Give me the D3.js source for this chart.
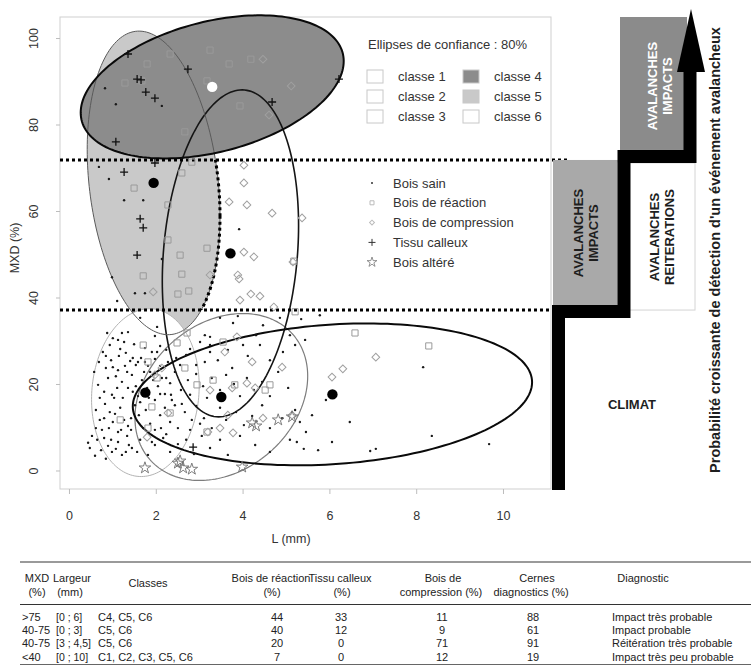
<!DOCTYPE html>
<html>
<head>
<meta charset="utf-8">
<script src="https://cdn.jsdelivr.net/npm/d3@7"></script>
<style>
  body { margin: 0; background: #fff; }
  text { font-family: "Liberation Sans", Arial, sans-serif; }
</style>
</head>
<body>
<svg id="chart" width="751" height="670"></svg>
<script>
// ---------- data ----------
const xTicks = [0, 2, 4, 6, 8, 10];
const yTicks = [0, 20, 40, 60, 80, 100];
const thresholds = [71.8, 37.1];          // MXD cut-offs (dotted lines)

const classNames = ["classe 1", "classe 2", "classe 3", "classe 4", "classe 5", "classe 6"];
// class means [L (mm), MXD (%)]
const classMeans = [[1.76, 18.0], [3.51, 17.0], [6.07, 17.6], [3.30, 88.7], [1.95, 66.5], [3.72, 50.2]];
// 80% confidence ellipse: half extent along L, along MXD, and correlation
const classSpreadL = [1.24, 1.99, 4.60, 3.03, 1.53, 1.57];
const classSpreadM = [19.4, 19.3, 16.4, 16.55, 35.1, 37.8];
const classCorr = [0.08, 0.25, 0.17, 0.36, -0.22, 0.17];

const boisSain = [
  [0.83,88.4],[1.08,84.7],[2.14,84.3],[0.69,70.2],[0.92,67.4],[1.27,62.5],[1.71,62.5],[3.92,55.8],[2.14,48.9],[0.99,44.7],[1.75,41.0],[1.52,41.0],[1.11,39.2],
  [0.88,31.8],[1.22,31.8],[1.98,31.1],[2.03,33.2],[1.64,35.3],[3.13,31.3],[3.25,30.9],[3.25,29.0],[3.48,35.3],[3.78,34.1],[3.89,35.7],[4.31,31.3],[4.47,33.6],[4.86,35.3],[5.35,35.0],[5.78,35.9],[0.94,29.0],[1.13,30.2],
  [0.78,27.4],[0.85,26.5],[0.97,25.5],[1.18,28.1],[1.31,27.2],[1.41,25.3],[1.47,26.0],[1.54,24.4],[1.75,28.3],[1.82,24.2],[1.98,25.8],[2.10,28.8],[2.10,24.2],[2.24,27.9],[2.28,25.1],[2.47,26.0],[2.56,24.4],[2.70,26.7],[2.79,28.1],[2.93,24.4],[3.02,29.7],[3.13,25.1],[3.25,27.4],[3.43,25.5],[3.66,27.9],[3.76,23.7],[4.01,29.0],[4.12,26.5],[4.40,29.0],[4.63,25.5],[4.93,27.4],[5.21,29.0],[5.44,30.2],
  [0.67,19.8],[0.90,21.4],[0.99,17.5],[1.13,23.2],[1.22,20.5],[1.36,19.1],[1.45,22.1],[1.59,17.2],[1.68,20.9],[1.87,22.8],[2.05,19.5],[2.14,21.4],[2.21,17.7],[2.33,20.2],[2.44,22.8],[2.58,18.6],[2.74,20.9],[2.79,17.5],[2.93,22.3],[3.09,19.5],[3.18,16.8],[3.29,21.4],[3.48,18.6],[3.62,22.1],[3.80,20.0],[3.94,17.2],[4.10,21.4],[4.26,18.6],[4.45,20.5],[4.63,17.2],[4.82,22.8],[5.05,19.1],
  [0.62,14.0],[0.71,11.7],[0.83,15.4],[0.92,9.8],[1.06,13.1],[1.18,14.5],[1.27,11.7],[1.36,10.3],[1.52,15.1],[1.61,12.8],[1.77,14.0],[1.87,10.8],[1.98,16.3],[2.10,12.8],[2.21,14.5],[2.33,11.2],[2.44,15.1],[2.51,9.8],[2.67,13.5],[2.83,11.7],[2.93,14.9],[3.11,12.1],[3.29,9.8],[3.48,14.5],[3.62,11.7],[3.85,13.5],[4.03,10.5],[4.22,12.6],[4.45,15.1],[4.63,9.8],[4.91,12.1],[5.21,14.0],[5.32,11.2],[5.60,12.8],[5.92,16.3],
  [0.44,6.4],[0.48,5.2],[0.65,7.1],[0.74,4.7],[0.81,7.5],[0.90,5.7],[0.99,4.3],[1.13,6.6],[1.22,3.6],[1.34,8.0],[1.45,5.2],[1.64,7.1],[1.82,3.6],[1.98,5.9],[2.17,7.5],[2.33,4.3],[2.51,6.1],[2.70,7.1],[2.88,3.8],[3.06,8.0],[3.25,5.2],[3.48,7.1],[3.66,3.6],[3.94,8.0],[4.29,5.9],[4.63,4.3],[5.09,7.1],[5.46,8.9],[5.74,4.7],[6.06,6.6],[6.94,4.5],
  [5.09,31.3],[8.16,23.9],[6.47,11.2],[8.36,8.0],[5.25,6.6],[5.41,5.0],[7.07,5.0],[9.68,6.1],
  [1.01,30.6],[1.36,32.0],[0.69,25.1],[1.01,23.9],[1.29,24.2],[1.66,26.0],[1.91,27.4],[0.81,18.2],[1.11,19.1],[1.47,18.2],[1.80,19.1],[1.94,20.9],[0.76,9.4],[1.01,11.2],[1.13,8.9],[1.43,12.1],[1.71,9.8],[1.98,9.4],[2.24,8.4],[0.60,3.4],[0.85,2.7],[1.08,5.0],[1.57,4.3],[1.38,5.9],[2.10,17.7],[2.37,16.3],[2.60,15.4],[2.79,9.4],[3.02,10.8],[1.75,25.1],
  [0.58,22.8],[0.71,16.8],[0.85,23.7],[0.94,13.5],[1.04,16.8],[1.15,26.5],[1.24,16.8],[1.34,22.8],[1.43,9.4],[1.50,29.2],[1.54,19.5],[1.64,15.8],[1.73,22.8],[1.84,16.8],[1.91,6.6],[2.03,27.4],[2.12,9.8],[2.24,21.4],[2.35,17.5],[0.62,9.8],[0.53,8.0],[0.97,7.1],[1.31,4.3],[1.20,9.4],[0.81,12.1],[1.08,21.8],[1.59,25.1],[1.27,29.7]
];
const boisReaction = [
  [2.33,96.3],[1.80,94.0],[3.25,97.2],[3.69,94.0],[4.19,95.1],[1.29,89.6],[1.68,90.1],[3.18,90.1],[3.94,84.3],[2.67,78.3],[1.50,65.3],[2.28,61.4],[2.60,68.8],[2.28,53.3],[3.18,51.4],[2.83,71.3],[2.56,49.8],[2.60,45.4],[2.76,41.5],[2.51,40.8],[5.18,48.4],[1.71,45.0],
  [1.71,29.0],[1.82,25.1],[2.49,29.5],[2.72,31.8],[2.67,23.7],[2.95,19.8],[3.32,20.9],[3.55,29.7],[3.82,19.8],[4.52,18.6],[4.63,19.8],[1.91,14.7],[2.33,13.3],[1.18,11.7],[1.82,9.8],[3.18,8.9],[2.03,21.4],[6.59,31.8],[8.29,28.8],[5.21,36.7]
];
const boisCompression = [
  [4.47,95.1],[5.12,88.9],[4.61,82.2],[5.37,58.4],[4.03,70.6],[4.03,66.5],[3.69,62.1],[4.10,61.4],[4.68,59.5],[4.03,50.5],[4.26,49.4],[3.89,45.2],[3.92,44.3],[4.19,40.8],[4.40,40.3],[3.25,45.2],[1.94,41.3],[3.94,39.4],[4.72,37.8],[5.16,48.2],
  [3.59,27.4],[3.87,30.9],[4.22,25.1],[4.91,23.9],[4.10,20.2],[3.25,18.6],[3.76,19.1],[4.29,19.1],[3.66,12.8],[3.48,9.8],[3.78,8.7],[3.20,8.9],[1.80,7.7],[2.28,13.3],[1.98,22.1],[2.14,23.7],[5.14,12.8],[4.47,12.1],[7.07,26.2],[6.31,23.5],[6.06,21.6]
];
const tissuCalleux = [
  [1.36,96.3],[1.57,90.5],[1.66,90.3],[1.77,87.5],[1.98,86.1],[2.74,92.8],[4.68,85.2],[1.08,76.0],[1.27,69.0],[1.64,58.2],[1.71,56.1],[1.57,49.8],[1.98,71.1],[6.22,90.5],[2.86,5.4]
];
const boisAltere = [
  [1.75,0.6],[2.51,1.7],[2.63,0.6],[2.83,0.3],[2.56,2.2],[3.99,0.8],[4.22,11.0],[4.31,10.3],[4.82,11.7],[5.14,12.4]
];
const symbolLabels = ["Bois sain", "Bois de réaction", "Bois de compression", "Tissu calleux", "Bois altéré"];

// summary table
const headLine1 = ["MXD", "Bois de réaction", "Tissu calleux", "Bois de", "Cernes", "Diagnostic"];
const headLine2 = ["(%)", "(mm)", "(%)", "(%)", "compression (%)", "diagnostics (%)"];
const rowMXD = [">75", "40-75", "40-75", "<40"];
const rowLargeur = ["[0 ; 6]", "[0 ; 3]", "[3 ; 4,5]", "[0 ; 10]"];
const rowClasses = ["C4, C5, C6", "C5, C6", "C5, C6", "C1, C2, C3, C5, C6"];
const rowReaction = [44, 40, 20, 7];
const rowCalleux = [33, 12, 0, 0];
const rowCompression = [11, 9, 71, 12];
const rowCernes = [88, 61, 91, 19];
const rowDiagnostic = ["Impact très probable", "Impact probable", "Réitération très probable", "Impact très peu probable"];

// ---------- layout ----------
const svg = d3.select("#chart");
const box = { left: 60, right: 551, top: 17, bottom: 489 };
const x = d3.scaleLinear().domain([-0.207, 11.106]).range([box.left, box.right]);
const y = d3.scaleLinear().domain([-4.28, 104.86]).range([box.bottom, box.top]);

const fills = ["#ffffff", "#ffffff", "#ffffff", "#8c8c8c", "#c9c9c9", "#ffffff"];
const strokes = ["#b3b3b3", "#7d7d7d", "#0a0a0a", "#0a0a0a", "#5a5a5a", "#151515"];
const widths = [1, 1.2, 2, 2, 1, 1.6];

function ellipsePoints(i) {
  const r = classCorr[i], s = Math.sqrt(1 - r * r);
  return d3.range(180).map(k => {
    const t = 2 * Math.PI * k / 180;
    return [x(classMeans[i][0] + classSpreadL[i] * Math.cos(t)),
            y(classMeans[i][1] + classSpreadM[i] * (r * Math.cos(t) + s * Math.sin(t)))];
  });
}
const closed = d3.line().curve(d3.curveLinearClosed);

// plot frame
svg.append("rect").attr("x", box.left).attr("y", box.top)
  .attr("width", box.right - box.left).attr("height", box.bottom - box.top)
  .attr("fill", "#fff").attr("stroke", "#cfcfcf").attr("stroke-width", 1);

// ellipse fills (painting order matters for the overlaps)
const fillOrder = [5, 4, 3, 0, 1, 2];
svg.append("g").selectAll("path").data(fillOrder).join("path")
  .attr("d", i => closed(ellipsePoints(i)))
  .attr("fill", i => fills[i]).attr("stroke", "none");

// ellipse outlines
svg.append("g").selectAll("path").data([0, 1, 5, 4, 2, 3]).join("path")
  .attr("d", i => closed(ellipsePoints(i)))
  .attr("fill", "none").attr("stroke", i => strokes[i]).attr("stroke-width", i => widths[i]);

// dotted threshold lines
const dotted = svg.append("g").attr("stroke", "#000").attr("stroke-width", 3)
  .attr("stroke-dasharray", "3,3").attr("fill", "none");
dotted.append("line").attr("x1", box.left).attr("x2", 568)
  .attr("y1", y(thresholds[0])).attr("y2", y(thresholds[0]));
dotted.append("line").attr("x1", box.left).attr("x2", 552)
  .attr("y1", y(thresholds[1])).attr("y2", y(thresholds[1]));

// right arc of classe 5 between the two thresholds, dotted
svg.append("clipPath").attr("id", "band").append("rect")
  .attr("x", x(classMeans[4][0])).attr("y", y(thresholds[0]))
  .attr("width", 200).attr("height", y(thresholds[1]) - y(thresholds[0]));
svg.append("path").attr("clip-path", "url(#band)")
  .attr("d", closed(ellipsePoints(4)))
  .attr("fill", "none").attr("stroke", "#000").attr("stroke-width", 3)
  .attr("stroke-dasharray", "3,3");

// ---------- points ----------
const pts = svg.append("g");
pts.selectAll(".sain").data(boisSain).join("circle")
  .attr("cx", d => x(d[0])).attr("cy", d => y(d[1])).attr("r", 1.2).attr("fill", "#1a1a1a");
const sq = d3.symbol(d3.symbolSquare, 38);
pts.selectAll(".rea").data(boisReaction).join("path")
  .attr("transform", d => `translate(${x(d[0])},${y(d[1])})`).attr("d", sq())
  .attr("fill", "none").attr("stroke", "#9a9a9a").attr("stroke-width", 1);
const dm = d3.symbol(d3.symbolSquare, 30);
pts.selectAll(".comp").data(boisCompression).join("path")
  .attr("transform", d => `translate(${x(d[0])},${y(d[1])}) rotate(45)`).attr("d", dm())
  .attr("fill", "none").attr("stroke", "#a0a0a0").attr("stroke-width", 1);
pts.selectAll(".cal").data(tissuCalleux).join("path")
  .attr("transform", d => `translate(${x(d[0])},${y(d[1])})`).attr("d", "M-4,0H4M0,-4V4")
  .attr("stroke", "#111").attr("stroke-width", 1.3);
const st = d3.symbol(d3.symbolStar, 42);
pts.selectAll(".alt").data(boisAltere).join("path")
  .attr("transform", d => `translate(${x(d[0])},${y(d[1])})`).attr("d", st())
  .attr("fill", "none").attr("stroke", "#6e6e6e").attr("stroke-width", 0.9);

// class means
svg.append("g").selectAll("circle").data(classMeans).join("circle")
  .attr("cx", d => x(d[0])).attr("cy", d => y(d[1])).attr("r", 5.2)
  .attr("fill", (d, i) => i === 3 ? "#fff" : "#000");

// ---------- axes ----------
const xAxis = svg.append("g").attr("transform", `translate(0,${box.bottom})`)
  .call(d3.axisBottom(x).tickValues(xTicks).tickSize(5).tickPadding(17));
xAxis.select(".domain").remove();
xAxis.selectAll("line").attr("stroke", "#bdbdbd");
xAxis.selectAll("text").attr("font-size", 12.5).attr("fill", "#333")
  .style("font-family", "'Liberation Sans', Arial, sans-serif");

const yAxis = svg.append("g").attr("transform", `translate(${box.left},0)`)
  .call(d3.axisLeft(y).tickValues(yTicks).tickSize(4));
yAxis.select(".domain").remove();
yAxis.selectAll("line").attr("stroke", "#bdbdbd");
yAxis.selectAll("text").attr("transform", "rotate(-90)").attr("x", 0).attr("y", -22).attr("dy", 0)
  .attr("text-anchor", "middle").attr("font-size", 12.5).attr("fill", "#333")
  .style("font-family", "'Liberation Sans', Arial, sans-serif");

svg.append("text").attr("x", 291).attr("y", 543).attr("text-anchor", "middle")
  .attr("font-size", 12.5).attr("fill", "#333").text("L (mm)");
svg.append("text").attr("transform", "translate(19,248) rotate(-90)").attr("text-anchor", "middle")
  .attr("font-size", 12.5).attr("fill", "#333").text("MXD (%)");

// ---------- legends ----------
svg.append("text").attr("x", 368).attr("y", 49).attr("font-size", 13).attr("fill", "#333")
  .text("Ellipses de confiance : 80%");
const leg = svg.append("g").selectAll("g").data(classNames).join("g")
  .attr("transform", (d, i) => `translate(${i < 3 ? 367 : 463},${70 + (i % 3) * 20})`);
leg.append("rect").attr("width", 16).attr("height", 13)
  .attr("fill", (d, i) => fills[i]).attr("stroke", "#c8c8c8");
leg.append("text").attr("x", 31).attr("y", 11).attr("font-size", 13).attr("fill", "#333").text(d => d);

const sym = svg.append("g").selectAll("g").data(symbolLabels).join("g")
  .attr("transform", (d, i) => `translate(372,${183 + i * 19.8})`);
sym.append("text").attr("x", 21).attr("y", 4.5).attr("font-size", 13).attr("fill", "#333").text(d => d);
sym.filter((d, i) => i === 0).append("circle").attr("r", 1).attr("fill", "#333");
sym.filter((d, i) => i === 1).append("path").attr("d", d3.symbol(d3.symbolSquare, 16)())
  .attr("fill", "none").attr("stroke", "#bbb");
sym.filter((d, i) => i === 2).append("path").attr("d", d3.symbol(d3.symbolSquare, 12)())
  .attr("transform", "rotate(45)").attr("fill", "none").attr("stroke", "#bbb");
sym.filter((d, i) => i === 3).append("path").attr("d", "M-3.5,0H3.5M0,-3.5V3.5")
  .attr("stroke", "#333").attr("stroke-width", 1);
sym.filter((d, i) => i === 4).append("path").attr("d", d3.symbol(d3.symbolStar, 30)())
  .attr("fill", "none").attr("stroke", "#777").attr("stroke-width", 0.8);

// ---------- detection staircase ----------
const yHi = y(thresholds[0]), yLo = y(thresholds[1]);
const side = svg.append("g");
side.append("rect").attr("x", 553).attr("y", yHi).attr("width", 65).attr("height", yLo - yHi - 5)
  .attr("fill", "#a9a9a9");
side.append("rect").attr("x", 618).attr("y", yHi + 3).attr("width", 77).attr("height", yLo - yHi - 3)
  .attr("fill", "#fff").attr("stroke", "#d4d4d4");
side.append("rect").attr("x", 620).attr("y", box.top).attr("width", 67).attr("height", yHi - 10 - box.top)
  .attr("fill", "#8b8b8b");
side.append("path")
  .attr("d", `M558.5,${box.bottom + 1}V${yLo + 1.5}H624V${yHi - 3.5}H690V70`)
  .attr("fill", "none").attr("stroke", "#000").attr("stroke-width", 13).attr("stroke-linejoin", "miter");
side.append("path").attr("d", "M677,72L705,72L691,9Z").attr("fill", "#000");

function stack(cx, cy, lines, color) {
  const t = side.append("text").attr("transform", `translate(${cx},${cy}) rotate(-90)`)
    .attr("text-anchor", "middle").attr("font-size", 13).attr("font-weight", "bold").attr("fill", color);
  lines.forEach((l, k) => t.append("tspan").attr("x", 0).attr("y", (k - (lines.length - 1) / 2) * 15 + 4.5).text(l));
}
stack(585.5, 233, ["AVALANCHES", "IMPACTS"], "#1e1e1e");
stack(662, 237, ["AVALANCHES", "REITERATIONS"], "#1e1e1e");
stack(660, 86, ["AVALANCHES", "IMPACTS"], "#ffffff");
side.append("text").attr("x", 632).attr("y", 409).attr("text-anchor", "middle")
  .attr("font-size", 13).attr("font-weight", "bold").attr("fill", "#1e1e1e").text("CLIMAT");
side.append("text").attr("transform", "translate(720,250) rotate(-90)").attr("text-anchor", "middle")
  .attr("font-size", 14.5).attr("font-weight", "bold").attr("fill", "#1e1e1e")
  .text("Probabilité croissante de détection d'un événement avalancheux");

// ---------- table ----------
const tb = svg.append("g").attr("font-size", 11).attr("fill", "#222");
tb.append("line").attr("x1", 20).attr("x2", 751).attr("y1", 562).attr("y2", 562)
  .attr("stroke", "#9a9a9a").attr("stroke-width", 2);
tb.append("line").attr("x1", 20).attr("x2", 751).attr("y1", 604.5).attr("y2", 604.5)
  .attr("stroke", "#333").attr("stroke-width", 1);
tb.append("line").attr("x1", 20).attr("x2", 751).attr("y1", 664.5).attr("y2", 664.5)
  .attr("stroke", "#666").attr("stroke-width", 1);

const headX = [37, 271, 340, 443, 537, 643];
const head2X = [37, 70, 272, 342, 441, 531];
headLine1.forEach((h, i) => tb.append("text").attr("x", headX[i]).attr("y", 582).attr("text-anchor", "middle").text(h));
tb.append("text").attr("x", 53).attr("y", 582).text("Largeur");
headLine2.forEach((h, i) => tb.append("text").attr("x", head2X[i]).attr("y", 596).attr("text-anchor", "middle").text(h));
tb.append("text").attr("x", 148).attr("y", 587).attr("text-anchor", "middle").text("Classes");

const rowY = d3.range(4).map(k => 621 + k * 13.2);
const cell = (v, k, xPos, anchor) => tb.append("text").attr("x", xPos).attr("y", rowY[k])
  .attr("text-anchor", anchor).text(v);
rowMXD.forEach((v, k) => cell(v, k, 22, "start"));
rowLargeur.forEach((v, k) => cell(v, k, 56, "start").attr("font-size", 10.5));
rowClasses.forEach((v, k) => cell(v, k, 98, "start"));
rowReaction.forEach((v, k) => cell(v, k, 277, "middle"));
rowCalleux.forEach((v, k) => cell(v, k, 341, "middle"));
rowCompression.forEach((v, k) => cell(v, k, 442, "middle"));
rowCernes.forEach((v, k) => cell(v, k, 533, "middle"));
rowDiagnostic.forEach((v, k) => cell(v, k, 612, "start"));
</script>
</body>
</html>
